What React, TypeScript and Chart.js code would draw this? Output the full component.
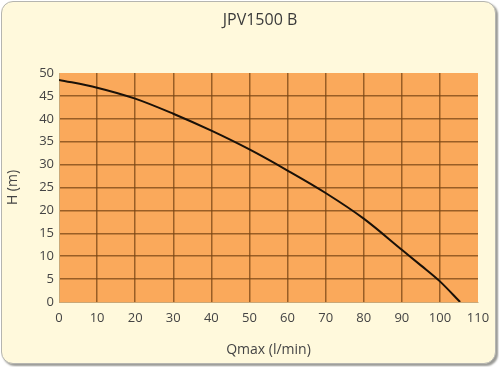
import React, { useEffect, useRef } from "react";
import { Chart, registerables } from "chart.js";

Chart.register(...registerables);

const TITLE = "JPV1500 B";
const X_LABEL = "Qmax (l/min)";
const Y_LABEL = "H (m)";
const flowValues = [0, 10, 20, 30, 40, 50, 60, 70, 80, 90, 95, 100, 105.3];
const headValues = [48.5, 46.8, 44.4, 41.1, 37.4, 33.3, 28.7, 23.8, 18.2, 11.4, 8.0, 4.5, 0];

const FONT = "'Open Sans', 'DejaVu Sans', sans-serif";

const plotBg = {
  id: "plotBg",
  beforeDraw(chart: any) {
    const { ctx, chartArea } = chart;
    ctx.save();
    ctx.fillStyle = "#faa95b";
    ctx.fillRect(chartArea.left, chartArea.top, chartArea.right - chartArea.left, chartArea.bottom - chartArea.top);
    ctx.restore();
  },
};

const titleText = {
  id: "titleText",
  afterDraw(chart: any) {
    const { ctx } = chart;
    ctx.save();
    ctx.fillStyle = "#3a3a3a";
    ctx.font = `16px ${FONT}`;
    ctx.textAlign = "center";
    ctx.textBaseline = "middle";
    ctx.fillText(TITLE, 260, 20);
    ctx.restore();
  },
};

export default function App() {
  const ref = useRef<HTMLCanvasElement>(null);
  useEffect(() => {
    document.body.style.margin = "0";
    const gridColor = (c: any) => {
      const n = c.scale.ticks.length;
      if (c.index === 0 || c.index === n - 1) return "rgba(0,0,0,0)";
      return "rgba(120,70,20,0.75)";
    };
    const chart = new Chart(ref.current!, {
      type: "line",
      data: {
        datasets: [
          {
            data: flowValues.map((x, i) => ({ x, y: headValues[i] })),
            borderColor: "#1a1108",
            borderWidth: 2,
            pointRadius: 0,
            cubicInterpolationMode: "monotone",
            fill: false,
          },
        ],
      },
      options: {
        animation: false,
        responsive: false,
        layout: { padding: { left: 0, right: 21, top: 73, bottom: 0 } },
        plugins: {
          legend: { display: false },
          tooltip: { enabled: false },
          title: { display: false },
        },
        scales: {
          x: {
            type: "linear",
            min: 0,
            max: 110,
            afterFit: (s: any) => { s.height = 65; },
            ticks: { stepSize: 10, color: "#444", font: { family: FONT, size: 13 }, padding: 8, maxRotation: 0 },
            grid: { color: gridColor, lineWidth: 1.5, drawTicks: false },
            border: { display: true, color: "#c9a878", width: 1 },
            title: { display: true, text: X_LABEL, color: "#444", font: { family: FONT, size: 14 }, padding: { top: 0, bottom: 9 } },
          },
          y: {
            type: "linear",
            min: 0,
            max: 50,
            afterFit: (s: any) => { s.width = 59; },
            ticks: { stepSize: 5, color: "#444", font: { family: FONT, size: 13 }, padding: 5 },
            grid: { color: gridColor, lineWidth: 1.5, drawTicks: false },
            border: { display: true, color: "#c9a878", width: 1 },
            title: { display: true, text: Y_LABEL, color: "#444", font: { family: FONT, size: 14 }, padding: { top: 5, bottom: 0 } },
          },
        },
      },
      plugins: [plotBg, titleText],
    });
    return () => chart.destroy();
  }, []);
  return (
    <div style={{ position: "relative", width: 499, height: 367 }}>
      <div
        style={{
          position: "absolute",
          left: 1,
          top: 1,
          width: 493,
          height: 361,
          background: "#fff9dc",
          border: "1px solid #b5b5b0",
          borderRadius: 12,
          boxShadow: "2px 2px 2px #9a9a96",
        }}
      />
      <canvas ref={ref} width={499} height={367} style={{ position: "absolute", left: 0, top: 0 }} />
    </div>
  );
}
